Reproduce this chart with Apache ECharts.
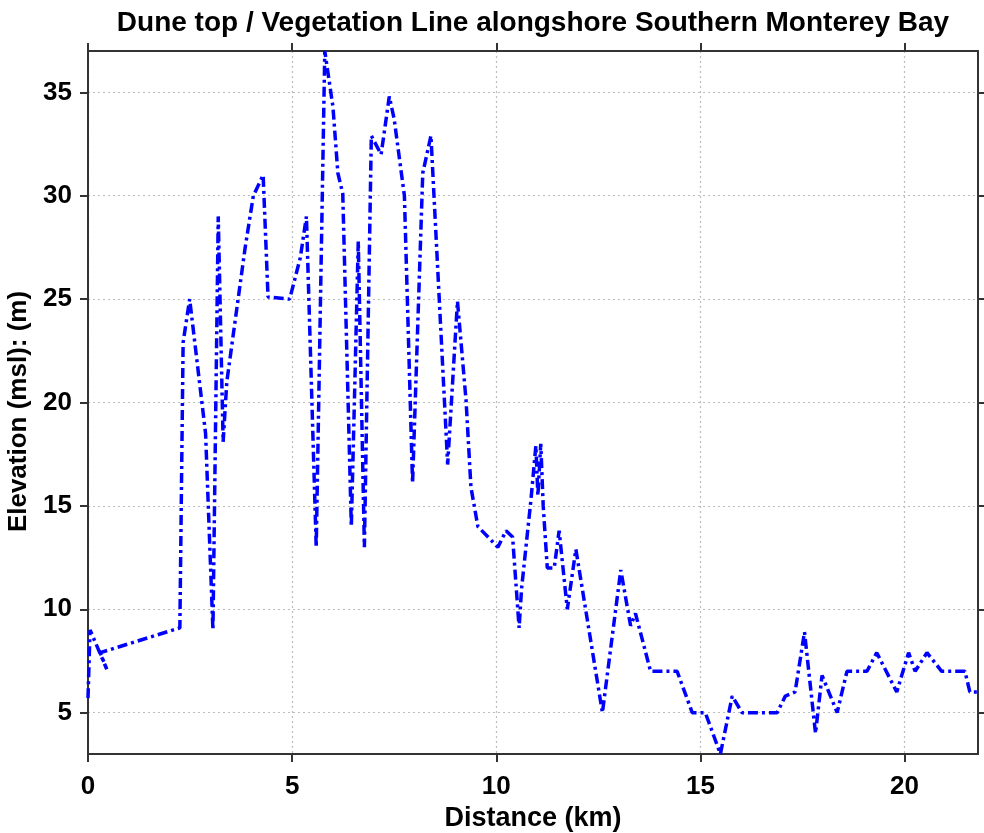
<!DOCTYPE html>
<html>
<head>
<meta charset="utf-8">
<script src="https://cdn.jsdelivr.net/npm/echarts@6/dist/echarts.min.js"></script>
<style>
html,body{margin:0;padding:0;background:#fff;}
#chart{width:984px;height:833px;}
</style>
</head>
<body>
<div id="chart"></div>
<script>
// Data
const titleText = "Dune top / Vegetation Line alongshore Southern Monterey Bay";
const xName = "Distance (km)";
const yName = "Elevation (msl): (m)";
const xTicks = [0, 5, 10, 15, 20];
const yTicks = [5, 10, 15, 20, 25, 30, 35];
const distKm = [0, 0.05, 0.46, 0.3, 2.25, 2.33, 2.49, 2.88, 3.06, 3.19, 3.31, 3.4, 3.85, 4.05, 4.29, 4.41, 4.94, 5.2, 5.35, 5.59, 5.8, 6.0, 6.12, 6.24, 6.45, 6.5, 6.62, 6.77, 6.94, 7.18, 7.38, 7.5, 7.75, 7.95, 8.2, 8.4, 8.81, 9.05, 9.26, 9.38, 9.55, 10.04, 10.24, 10.4, 10.56, 10.62, 10.85, 10.97, 11.02, 11.09, 11.15, 11.25, 11.42, 11.54, 11.74, 11.95, 12.6, 13.05, 13.29, 13.41, 13.78, 14.43, 14.8, 15.12, 15.49, 15.78, 16.02, 16.88, 17.08, 17.32, 17.55, 17.82, 17.98, 18.35, 18.59, 19.08, 19.32, 19.81, 20.1, 20.26, 20.55, 20.91, 21.48, 21.6, 21.78];
const elevM = [5.7, 9.0, 7.1, 7.9, 9.1, 22.9, 25.0, 18.5, 9.0, 29.0, 18.1, 21.0, 27.5, 30.0, 31.0, 25.1, 25.0, 27.0, 29.0, 13.0, 37.0, 34.3, 31.1, 30.1, 14.0, 18.0, 27.8, 13.0, 32.9, 32.0, 34.8, 33.7, 30.0, 16.1, 31.1, 32.9, 17.0, 24.9, 20.1, 15.9, 14.0, 13.0, 13.8, 13.5, 9.1, 11.0, 15.3, 17.9, 15.5, 18.0, 15.0, 12.0, 12.0, 13.8, 10.0, 12.9, 5.0, 11.9, 9.2, 9.8, 7.0, 7.0, 5.0, 5.0, 3.0, 5.8, 5.0, 5.0, 5.8, 6.0, 8.9, 4.0, 6.8, 5.0, 7.0, 7.0, 7.9, 6.0, 7.9, 7.0, 7.9, 7.0, 7.0, 6.0, 6.0];
const xMin = 0, xMax = 21.8, yMin = 3, yMax = 37;

const points = distKm.map((d, i) => [d, elevM[i]]);
const FONT = '"Liberation Sans", Arial, sans-serif';
const axisColor = '#333';
const gridColor = '#bdbdbd';

function xAxisCfg(pos, showLabels) {
  return {
    type: 'value', position: pos, min: xMin, max: xMax,
    axisLine: {show: true, onZero: false, lineStyle: {color: axisColor, width: 2}},
    axisTick: {show: true, inside: false, length: 8, customValues: xTicks, lineStyle: {color: axisColor, width: 2}},
    axisLabel: {show: showLabels, customValues: xTicks, margin: 20, fontFamily: FONT, fontWeight: 'bold', fontSize: 26, color: '#000'},
    splitLine: {show: showLabels, lineStyle: {color: gridColor, width: 1.2, type: [2, 3]}},
    name: showLabels ? xName : '', nameLocation: 'middle', nameGap: 45,
    nameTextStyle: {fontFamily: FONT, fontWeight: 'bold', fontSize: 27, color: '#000'}
  };
}
function yAxisCfg(pos, showLabels) {
  return {
    type: 'value', position: pos, min: yMin, max: yMax,
    axisLine: {show: true, onZero: false, lineStyle: {color: axisColor, width: 2}},
    axisTick: {show: true, inside: false, length: 8, customValues: yTicks, lineStyle: {color: axisColor, width: 2}},
    axisLabel: {show: showLabels, customValues: yTicks, margin: 16, fontFamily: FONT, fontWeight: 'bold', fontSize: 26, color: '#000'},
    splitLine: {show: showLabels, lineStyle: {color: gridColor, width: 1.2, type: [2, 3]}},
    name: showLabels ? yName : '', nameLocation: 'middle', nameGap: 48, nameRotate: 90,
    nameTextStyle: {fontFamily: FONT, fontWeight: 'bold', fontSize: 26, color: '#000', padding: [0, 18, 0, 0]}
  };
}

const chart = echarts.init(document.getElementById('chart'), null, {renderer: 'canvas'});
chart.setOption({
  backgroundColor: '#fff',
  animation: false,
  title: {
    text: titleText, left: 528, textAlign: 'center', top: 4,
    textStyle: {fontFamily: FONT, fontWeight: 'bold', fontSize: 28, color: '#000'}
  },
  grid: {left: 88, right: 6, top: 51, bottom: 79, containLabel: false, outerBoundsMode: 'none'},
  xAxis: [xAxisCfg('bottom', true), xAxisCfg('top', false)],
  yAxis: [yAxisCfg('left', true), yAxisCfg('right', false)],
  series: [{
    type: 'line', xAxisIndex: 0, yAxisIndex: 0, data: points,
    showSymbol: false, symbol: 'none', smooth: false, clip: true,
    lineStyle: {color: '#0000ff', width: 3.5, type: [10, 4, 3, 4]}
  }]
});
</script>
</body>
</html>
